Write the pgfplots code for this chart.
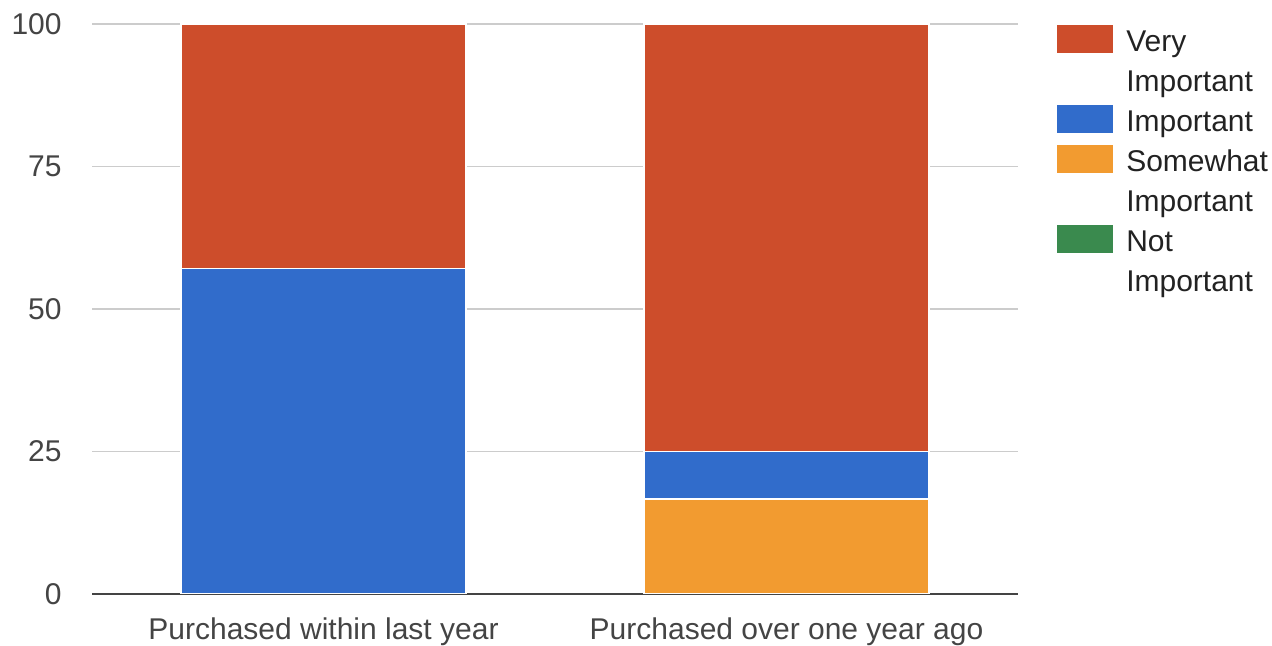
\documentclass[border=0pt]{standalone}
\usepackage{pgfplots}
\pgfplotsset{compat=1.18}
\usepackage{fontspec}
\setmainfont{Liberation Sans}
\definecolor{cVery}{HTML}{CD4D2B}
\definecolor{cImp}{HTML}{316CCB}
\definecolor{cSome}{HTML}{F29B30}
\definecolor{cNot}{HTML}{3A8A4E}
\definecolor{cGrid}{HTML}{CCCCCC}
\definecolor{cText}{HTML}{444444}
\definecolor{cLeg}{HTML}{222222}
\pgfplotsset{
  swatch/.style={legend image code/.code={\fill[#1] (0pt,-4.15pt) rectangle (27.5pt,9.5pt);}},
}
\begin{document}
\begin{tikzpicture}[font=\fontsize{15}{19}\selectfont]
\begin{axis}[
  name=ax,
  scale only axis, width=463pt, height=285pt,
  ybar stacked, bar width=142.5pt,
  xmin=-0.5, xmax=1.5, ymin=0, ymax=100,
  xtick={0,1}, xticklabels={Purchased within last year,Purchased over one year ago},
  ytick={0,25,50,75,100},
  major tick length=0pt,
  axis x line*=bottom, axis y line*=left,
  x axis line style={draw=cText, line width=0.9pt},
  y axis line style={draw=none},
  ymajorgrids, grid style={cGrid, line width=0.6pt},
  /pgf/number format/assume math mode=true,
  tick label style={font=\fontsize{15}{18}\selectfont, text=cText},
  y tick label style={anchor=east, inner sep=0pt, xshift=-15pt},
  x tick label style={anchor=north, inner sep=0pt, yshift=-11.5pt},
  legend style={at={(1.0426,0.9991)}, anchor=north west, draw=none, fill=none,
    inner sep=0pt, outer sep=0pt,
    font=\fontsize{15}{19}\selectfont, text=cLeg,
    nodes={inner sep=0pt, text height=13.45pt, text depth=6.55pt},
    row sep=0pt, column sep=6.5pt},
  legend cell align=left,
]
\addplot[forget plot, fill=cNot, draw=none] coordinates {(0,0) (1,0)};
\addplot[forget plot, fill=cSome, draw=white, line width=0.6pt] coordinates {(0,0) (1,16.67)};
\addplot[forget plot, fill=cImp, draw=white, line width=0.6pt] coordinates {(0,57.14) (1,8.33)};
\addplot[forget plot, fill=cVery, draw=white, line width=0.6pt] coordinates {(0,42.86) (1,75)};
\addlegendimage{swatch=cVery}\addlegendentry{Very}
\addlegendimage{empty legend}\addlegendentry{Important}
\addlegendimage{swatch=cImp}\addlegendentry{Important}
\addlegendimage{swatch=cSome}\addlegendentry{Somewhat}
\addlegendimage{empty legend}\addlegendentry{Important}
\addlegendimage{swatch=cNot}\addlegendentry{Not}
\addlegendimage{empty legend}\addlegendentry{Important}
\end{axis}
\pgfresetboundingbox
\path ([shift={(-46pt,-26pt)}]ax.south west) rectangle ++(636pt,323pt);
\end{tikzpicture}
\end{document}
